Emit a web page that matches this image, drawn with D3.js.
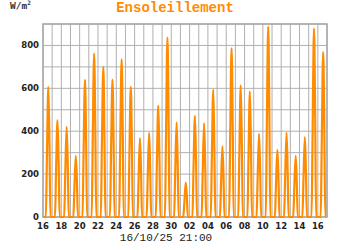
<!DOCTYPE html>
<html>
<head>
<meta charset="utf-8">
<script src="https://cdn.jsdelivr.net/npm/d3@7"></script>
<style>
  body { margin: 0; background: #fff; }
  svg { display: block; }
</style>
</head>
<body>
<div id="chart"></div>
<script>
// daily readings, 16/09 -> 16/10 (W/m2)
const days = ["2025-09-16","2025-09-17","2025-09-18","2025-09-19","2025-09-20","2025-09-21","2025-09-22","2025-09-23",
  "2025-09-24","2025-09-25","2025-09-26","2025-09-27","2025-09-28","2025-09-29","2025-09-30","2025-10-01",
  "2025-10-02","2025-10-03","2025-10-04","2025-10-05","2025-10-06","2025-10-07","2025-10-08","2025-10-09",
  "2025-10-10","2025-10-11","2025-10-12","2025-10-13","2025-10-14","2025-10-15","2025-10-16"];
// value at 10:00
const am = [250,200,180,120,260,320,300,270,300,250,150,160,220,340,180,60,
  200,180,240,130,320,250,240,160,360,130,160,120,150,350,310];
// value at 14:00 (daily peak)
const peak = [607,452,420,285,640,762,700,641,735,607,368,392,519,836,441,160,
  472,438,594,329,787,614,585,388,888,313,394,285,373,878,769];
// value at 17:00
const pm = [330,250,230,160,350,420,380,350,400,330,200,210,280,460,240,90,
  260,240,320,180,430,330,320,210,480,170,210,150,200,480,420];
const yTicks = [0, 200, 400, 600, 800];
const sunrise = 7.5, sunset = 19.5;

const W = 350, H = 250;
const mLeft = 43, mRight = 327, mTop = 24, mBottom = 217;

const parse = d3.timeParse("%Y-%m-%d");
const rows = [];
days.forEach((d, i) => {
  const t = parse(d);
  const at = h => new Date(t.getTime() + h * 3600e3);
  rows.push({ t: at(0), v: 0 });
  rows.push({ t: at(sunrise), v: 0 });
  rows.push({ t: at(10), v: am[i] });
  rows.push({ t: at(14), v: peak[i] });
  rows.push({ t: at(17), v: pm[i] });
  rows.push({ t: at(sunset), v: 0 });
});
rows.push({ t: new Date(parse("2025-10-16").getTime() + 21 * 3600e3), v: 0 });

const x = d3.scaleTime()
  .domain([parse("2025-09-16"), parse("2025-10-17")])
  .range([mLeft, mRight]);
const y = d3.scaleLinear().domain([0, 900]).range([mBottom, mTop]);

const svg = d3.select("#chart").append("svg")
  .attr("width", W).attr("height", H);

// grid
svg.append("g").selectAll("line")
  .data(d3.range(0, 901, 100))
  .enter().append("line")
  .attr("x1", mLeft).attr("x2", mRight)
  .attr("y1", d => y(d)).attr("y2", d => y(d))
  .attr("stroke", "#b0b0b0").attr("stroke-width", 1);

svg.append("g").selectAll("line")
  .data(x.ticks(d3.timeDay.every(1)))
  .enter().append("line")
  .attr("x1", d => x(d)).attr("x2", d => x(d))
  .attr("y1", mTop).attr("y2", mBottom)
  .attr("stroke", "#b0b0b0").attr("stroke-width", 1);

svg.append("rect")
  .attr("x", mLeft).attr("y", mTop)
  .attr("width", mRight - mLeft).attr("height", mBottom - mTop)
  .attr("fill", "none").attr("stroke", "#a8a8a8").attr("stroke-width", 1.5);

// series
const line = d3.line()
  .x(d => x(d.t)).y(d => y(d.v))
  .curve(d3.curveMonotoneX);

svg.append("path")
  .datum(rows)
  .attr("d", line)
  .attr("fill", "none")
  .attr("stroke", "#ff8c00")
  .attr("stroke-width", 2.2)
  .attr("stroke-linejoin", "round");

// axes labels
const lab = "font-family:'DejaVu Sans';font-weight:bold;font-size:8.5px";
svg.append("g").selectAll("text")
  .data(yTicks)
  .enter().append("text")
  .attr("x", 39).attr("y", d => y(d) + 3)
  .attr("text-anchor", "end")
  .attr("style", lab).attr("fill", "#222")
  .text(d => d);

const start = parse("2025-09-16");
svg.append("g").selectAll("text")
  .data(x.ticks(d3.timeDay.every(1)).filter(d => d3.timeDay.count(start, d) % 2 === 0))
  .enter().append("text")
  .attr("x", d => x(d)).attr("y", 229)
  .attr("text-anchor", "middle")
  .attr("style", lab).attr("fill", "#222")
  .text(d => d3.timeFormat("%d")(d));

const unit = svg.append("text")
  .attr("x", 10).attr("y", 9)
  .attr("style", "font-family:'DejaVu Sans Mono';font-weight:bold;font-size:9.5px")
  .attr("fill", "#333")
  .text("W/m");
unit.append("tspan").attr("dy", -4).attr("font-size", "6px").text("2");

svg.append("text")
  .attr("x", 175).attr("y", 12)
  .attr("text-anchor", "middle")
  .attr("style", "font-family:'Liberation Mono';font-weight:bold;font-size:14px")
  .attr("fill", "#ff8c00")
  .text("Ensoleillement");

svg.append("text")
  .attr("x", 166).attr("y", 241)
  .attr("text-anchor", "middle")
  .attr("style", "font-family:'Liberation Mono';font-size:11px")
  .attr("fill", "#222")
  .text("16/10/25 21:00");
</script>
</body>
</html>
